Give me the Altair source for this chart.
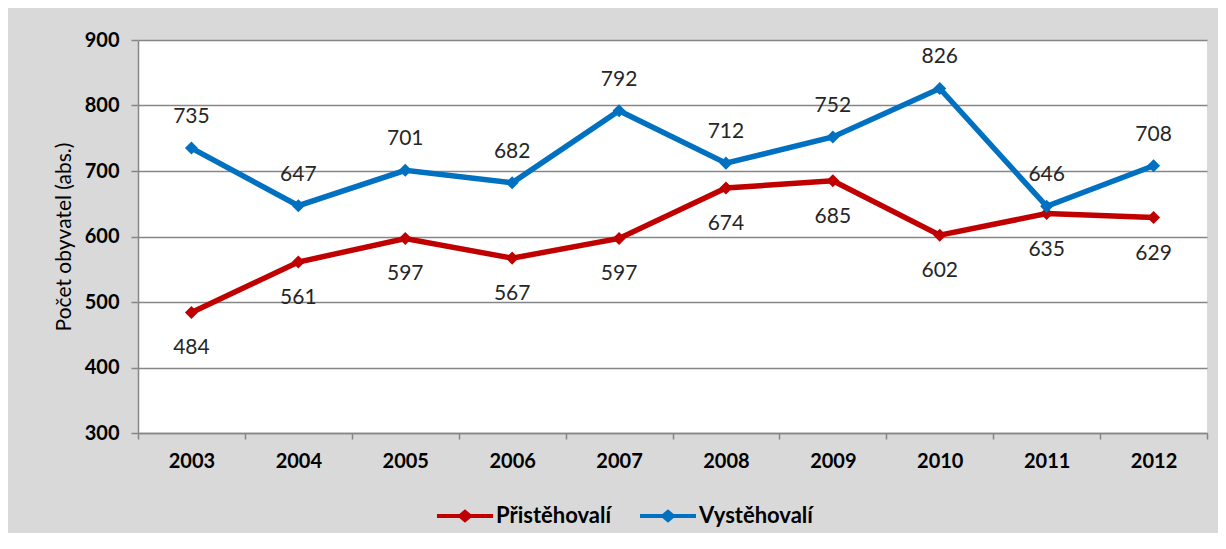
import altair as alt
import pandas as pd

years = ["2003", "2004", "2005", "2006", "2007", "2008", "2009", "2010", "2011", "2012"]
pristehovali = [484, 561, 597, 567, 597, 674, 685, 602, 635, 629]
vystehovali = [735, 647, 701, 682, 792, 712, 752, 826, 646, 708]
series_names = ["Přistěhovalí", "Vystěhovalí"]
series_colors = ["#c00000", "#0070c0"]

rows = []
for y, a, b in zip(years, pristehovali, vystehovali):
    rows.append({"rok": y, "serie": series_names[0], "hodnota": a})
    rows.append({"rok": y, "serie": series_names[1], "hodnota": b})
df = pd.DataFrame(rows)

FONT = "Lato"
legend_path = ("M-1,-0.07 L-0.2,-0.07 L0,-0.24 L0.2,-0.07 L1,-0.07 "
               "L1,0.07 L0.2,0.07 L0,0.24 L-0.2,0.07 L-1,0.07 Z")

x_enc = alt.X("rok:O",
              scale=alt.Scale(type="band", paddingInner=0, paddingOuter=0),
              axis=alt.Axis(title=None, labelAngle=0, tickBand="extent",
                            labelFont=FONT, labelFontSize=20, labelFontWeight="bold",
                            labelColor="#000000", labelPadding=12, tickSize=6,
                            tickColor="#868686", domainColor="#868686",
                            domainWidth=1.5, tickWidth=1.5, grid=False))
y_enc = alt.Y("hodnota:Q",
              scale=alt.Scale(domain=[300, 900], nice=False, zero=False),
              axis=alt.Axis(title="Počet obyvatel (abs.)", values=[300, 400, 500, 600, 700, 800, 900],
                            labelFont=FONT, labelFontSize=20, labelFontWeight="bold",
                            labelColor="#000000", labelPadding=12, tickSize=7,
                            tickColor="#868686", domainColor="#868686",
                            domainWidth=1.5, tickWidth=1.5,
                            gridColor="#868686", gridWidth=1.5,
                            titleFont=FONT, titleFontSize=21, titleFontWeight="normal",
                            titleColor="#000000", titlePadding=10))
color_enc = alt.Color("serie:N",
                      scale=alt.Scale(domain=series_names, range=series_colors),
                      legend=alt.Legend(title=None, orient="none", direction="horizontal",
                                        legendX=299, legendY=448, padding=0,
                                        symbolType=legend_path, symbolSize=3136,
                                        symbolStrokeWidth=0, symbolOpacity=1,
                                        labelFont=FONT, labelFontSize=22, labelFontWeight="bold",
                                        labelColor="#000000", labelOffset=3,
                                        columnPadding=28))

base = alt.Chart(df).encode(x=x_enc, y=y_enc, color=color_enc)

lines = base.mark_line(strokeWidth=5.5)
points = base.mark_point(shape="diamond", filled=True, size=170, opacity=1)

labels_up = alt.Chart(df).transform_filter(alt.datum.serie == series_names[1]).mark_text(
    dy=-31, font=FONT, fontSize=21, color="#262626", baseline="middle"
).encode(x="rok:O", y="hodnota:Q", text="hodnota:Q")
labels_down = alt.Chart(df).transform_filter(alt.datum.serie == series_names[0]).mark_text(
    dy=36, font=FONT, fontSize=21, color="#262626", baseline="middle"
).encode(x="rok:O", y="hodnota:Q", text="hodnota:Q")

chart = alt.layer(lines, points, labels_up, labels_down).properties(
    width=1069, height=393,
    autosize=alt.AutoSizeParams(type="none"),
    padding={"left": 130, "top": 32, "right": 11, "bottom": 100},
    background="#d9d9d9",
).configure_view(stroke=None, fill="#ffffff")

chart.save("out.html", embed_options={"renderer": "svg", "actions": False})
